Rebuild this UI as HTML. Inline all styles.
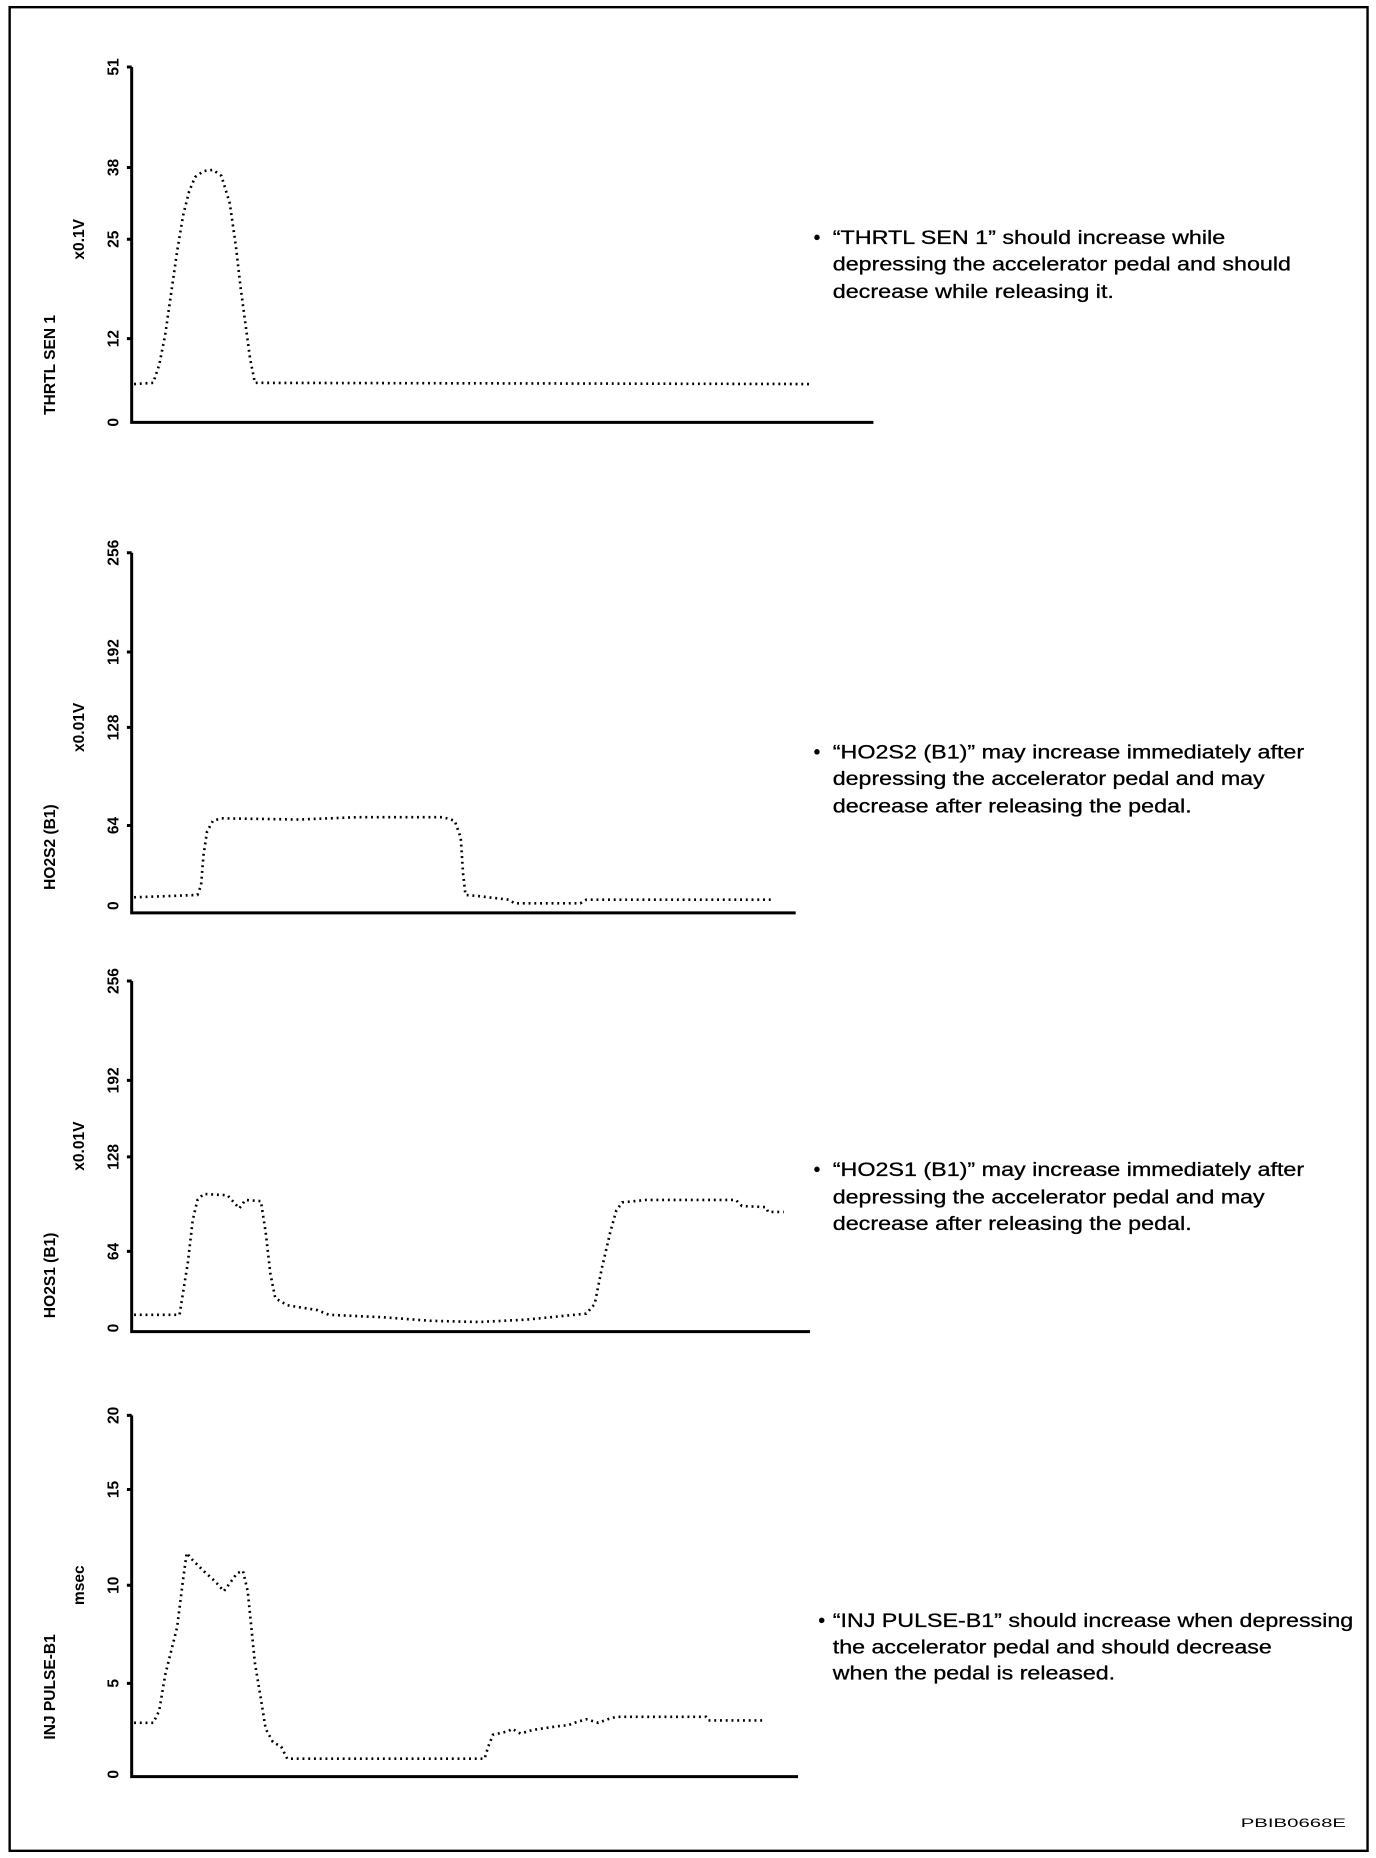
<!DOCTYPE html>
<html><head><meta charset="utf-8"><style>
html,body{margin:0;padding:0;background:#fff;}
svg{display:block;}
text{font-family:"Liberation Sans",Arial,sans-serif;fill:#000;}
.t{font-size:13px;font-weight:bold;}
.l{font-size:13px;font-weight:bold;}
.p{font-size:16px;stroke:#000;stroke-width:0.25;}
.d{fill:none;stroke:#000;stroke-width:2.2;stroke-dasharray:1.6 3.2;}
.ax{fill:none;stroke:#000;stroke-width:2.5;}
</style></head><body>
<svg width="1376" height="1858" viewBox="0 0 1150 1553" xmlns="http://www.w3.org/2000/svg">
<rect x="8" y="6" width="1135" height="1541" fill="none" stroke="#000" stroke-width="2"/>

<!-- Panel 1 -->
<path class="ax" d="M110 56 V353 H730"/>
<path stroke="#000" stroke-width="2.5" d="M106 56H110M106 140H110M106 200H110M106 283H110"/>
<g class="t" text-anchor="middle">
<text transform="translate(95,56) rotate(-90)" dy="4">51</text>
<text transform="translate(95,140) rotate(-90)" dy="4">38</text>
<text transform="translate(95,200) rotate(-90)" dy="4">25</text>
<text transform="translate(95,283) rotate(-90)" dy="4">12</text>
<text transform="translate(95,353) rotate(-90)" dy="4">0</text>
</g>
<g class="l" text-anchor="middle">
<text transform="translate(70,200) rotate(-90)">x0.1V</text>
<text transform="translate(46,305) rotate(-90)">THRTL SEN 1</text>
</g>
<polyline class="d" points="112,321 128,320 133,305 138,280 143,245 148,210 153,180 158,160 163,148 170,143 178,142 185,147 192,170 197,205 201,240 205,270 209,300 213,320 677,321"/>
<g class="p">
<text x="680" y="204">•</text>
<text x="696" y="204" textLength="328" lengthAdjust="spacingAndGlyphs">“THRTL SEN 1” should increase while</text>
<text x="696" y="226" textLength="383" lengthAdjust="spacingAndGlyphs">depressing the accelerator pedal and should</text>
<text x="696" y="249" textLength="235" lengthAdjust="spacingAndGlyphs">decrease while releasing it.</text>
</g>

<!-- Panel 2 -->
<path class="ax" d="M110 462 V763 H665"/>
<path stroke="#000" stroke-width="2.5" d="M106 462H110M106 545H110M106 608H110M106 690H110"/>
<g class="t" text-anchor="middle">
<text transform="translate(95,462) rotate(-90)" dy="4">256</text>
<text transform="translate(95,545) rotate(-90)" dy="4">192</text>
<text transform="translate(95,608) rotate(-90)" dy="4">128</text>
<text transform="translate(95,690) rotate(-90)" dy="4">64</text>
<text transform="translate(95,757) rotate(-90)" dy="4">0</text>
</g>
<g class="l" text-anchor="middle">
<text transform="translate(70,608) rotate(-90)">x0.01V</text>
<text transform="translate(46,708) rotate(-90)">HO2S2 (B1)</text>
</g>
<polyline class="d" points="112,750 140,749 165,748 168,740 170,715 173,695 178,686 185,684 250,685 300,683 340,683 370,683 380,686 385,700 387,730 389,748 400,749 425,752 430,755 485,755 490,752 645,752"/>
<g class="p">
<text x="680" y="634">•</text>
<text x="696" y="634" textLength="394" lengthAdjust="spacingAndGlyphs">“HO2S2 (B1)” may increase immediately after</text>
<text x="696" y="656" textLength="361" lengthAdjust="spacingAndGlyphs">depressing the accelerator pedal and may</text>
<text x="696" y="679" textLength="300" lengthAdjust="spacingAndGlyphs">decrease after releasing the pedal.</text>
</g>

<!-- Panel 3 -->
<path class="ax" d="M110 820 V1113 H677"/>
<path stroke="#000" stroke-width="2.5" d="M106 820H110M106 903H110M106 967H110M106 1046H110"/>
<g class="t" text-anchor="middle">
<text transform="translate(95,820) rotate(-90)" dy="4">256</text>
<text transform="translate(95,903) rotate(-90)" dy="4">192</text>
<text transform="translate(95,967) rotate(-90)" dy="4">128</text>
<text transform="translate(95,1046) rotate(-90)" dy="4">64</text>
<text transform="translate(95,1110) rotate(-90)" dy="4">0</text>
</g>
<g class="l" text-anchor="middle">
<text transform="translate(70,958) rotate(-90)">x0.01V</text>
<text transform="translate(46,1066) rotate(-90)">HO2S1 (B1)</text>
</g>
<polyline class="d" points="112,1099 150,1099 153,1080 157,1055 161,1020 165,1003 170,998 190,999 200,1010 205,1003 218,1004 222,1030 226,1065 230,1085 240,1091 265,1095 275,1099 320,1101 360,1104 400,1105 440,1103 490,1098 497,1090 503,1060 510,1030 515,1012 520,1005 540,1003 615,1003 620,1008 640,1009 642,1013 655,1013"/>
<g class="p">
<text x="680" y="983">•</text>
<text x="696" y="983" textLength="394" lengthAdjust="spacingAndGlyphs">“HO2S1 (B1)” may increase immediately after</text>
<text x="696" y="1006" textLength="361" lengthAdjust="spacingAndGlyphs">depressing the accelerator pedal and may</text>
<text x="696" y="1028" textLength="300" lengthAdjust="spacingAndGlyphs">decrease after releasing the pedal.</text>
</g>

<!-- Panel 4 -->
<path class="ax" d="M110 1183 V1485 H667"/>
<path stroke="#000" stroke-width="2.5" d="M106 1183H110M106 1245H110M106 1325H110M106 1407H110"/>
<g class="t" text-anchor="middle">
<text transform="translate(95,1183) rotate(-90)" dy="4">20</text>
<text transform="translate(95,1245) rotate(-90)" dy="4">15</text>
<text transform="translate(95,1325) rotate(-90)" dy="4">10</text>
<text transform="translate(95,1407) rotate(-90)" dy="4">5</text>
<text transform="translate(95,1483) rotate(-90)" dy="4">0</text>
</g>
<g class="l" text-anchor="middle">
<text transform="translate(70,1325) rotate(-90)">msec</text>
<text transform="translate(46,1410) rotate(-90)">INJ PULSE-B1</text>
</g>
<polyline class="d" points="112,1440 128,1440 133,1430 138,1400 143,1380 148,1360 153,1320 156,1298 160,1303 170,1313 180,1322 187,1330 193,1322 198,1315 203,1313 207,1330 210,1360 213,1390 218,1420 222,1445 228,1456 235,1460 240,1470 405,1470 408,1460 412,1450 425,1447 428,1445 435,1449 445,1446 465,1443 475,1442 480,1440 490,1437 500,1440 508,1437 515,1435 590,1435 592,1438 638,1438"/>
<g class="p">
<text x="684" y="1360">•</text>
<text x="696" y="1360" textLength="435" lengthAdjust="spacingAndGlyphs">“INJ PULSE-B1” should increase when depressing</text>
<text x="696" y="1382" textLength="367" lengthAdjust="spacingAndGlyphs">the accelerator pedal and should decrease</text>
<text x="696" y="1404" textLength="236" lengthAdjust="spacingAndGlyphs">when the pedal is released.</text>
</g>

<text x="1037" y="1527" font-size="10" textLength="88" lengthAdjust="spacingAndGlyphs">PBIB0668E</text>
</svg>
</body></html>
